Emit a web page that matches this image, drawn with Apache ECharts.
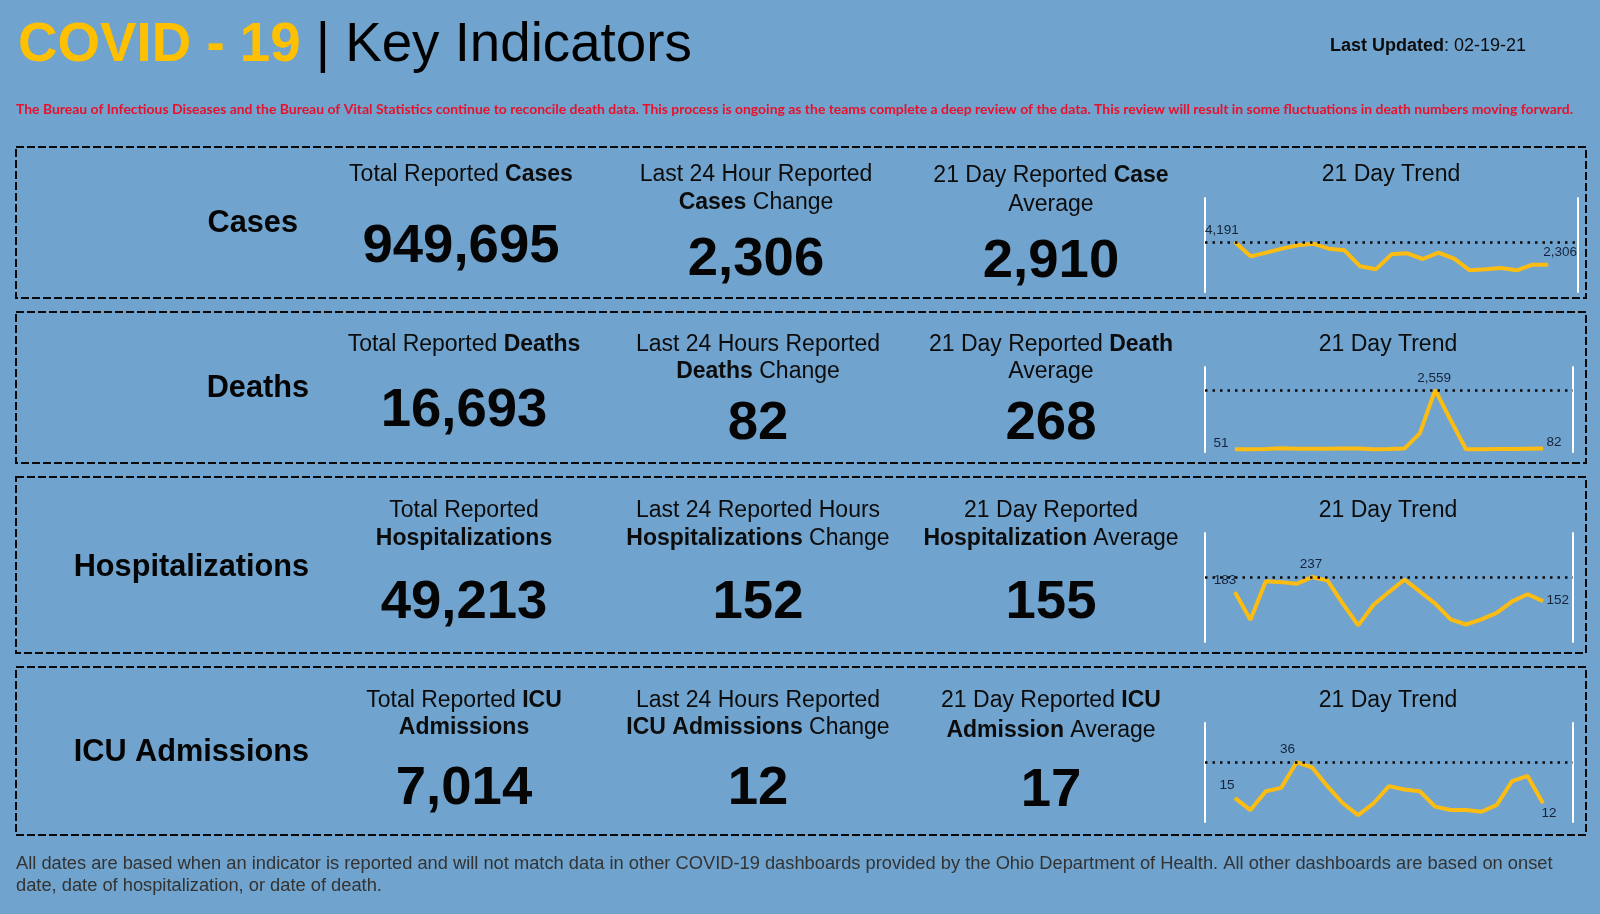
<!DOCTYPE html>
<html>
<head>
<meta charset="utf-8">
<title>COVID - 19 | Key Indicators</title>
<script src="https://cdn.jsdelivr.net/npm/echarts@6/dist/echarts.min.js"></script>
<style>
  html, body { margin: 0; padding: 0; background: #70a3cd; }
  #main { width: 1600px; height: 914px; }
</style>
</head>
<body>
<div id="main"></div>
<script type="text/javascript">
// values
var days = [0, 1, 2, 3, 4, 5, 6, 7, 8, 9, 10, 11, 12, 13, 14, 15, 16, 17, 18, 19, 20];
var casesTrend = [4191, 3000, 3305, 3637, 3914, 4052, 3637, 3498, 2169, 1920, 3166, 3249, 2778, 3305, 2806, 1836, 1920, 2030, 1836, 2306, 2306];
var deathsTrend = [51, 52, 60, 90, 78, 75, 72, 80, 85, 55, 62, 80, 727, 2559, 1291, 51, 55, 60, 62, 78, 82];
var hospTrend = [183, 86, 222, 219, 213, 237, 225, 143, 66, 139, 184, 228, 186, 143, 87, 69, 87, 110, 151, 176, 152];
var icuTrend = [15, 8, 19, 21, 36, 33, 22, 12, 5, 12, 22, 20, 19, 10, 8, 8, 7, 11, 25, 28, 12];

var rowNames = ['Cases', 'Deaths', 'Hospitalizations', 'ICU Admissions'];
var totals = ['949,695', '16,693', '49,213', '7,014'];
var changes = ['2,306', '82', '152', '12'];
var averages = ['2,910', '268', '155', '17'];

// headers: each line is a list of [text, bold]
var totalHeaders = [
  [[['Total Reported ', 0], ['Cases', 1]]],
  [[['Total Reported ', 0], ['Deaths', 1]]],
  [[['Total Reported', 0]], [['Hospitalizations', 1]]],
  [[['Total Reported ', 0], ['ICU', 1]], [['Admissions', 1]]]
];
var changeHeaders = [
  [[['Last 24 Hour Reported', 0]], [['Cases', 1], [' Change', 0]]],
  [[['Last 24 Hours Reported', 0]], [['Deaths', 1], [' Change', 0]]],
  [[['Last 24 Reported Hours', 0]], [['Hospitalizations', 1], [' Change', 0]]],
  [[['Last 24 Hours Reported', 0]], [['ICU Admissions', 1], [' Change', 0]]]
];
var averageHeaders = [
  [[['21 Day Reported ', 0], ['Case', 1]], [['Average', 0]]],
  [[['21 Day Reported ', 0], ['Death', 1]], [['Average', 0]]],
  [[['21 Day Reported', 0]], [['Hospitalization', 1], [' Average', 0]]],
  [[['21 Day Reported ', 0], ['ICU', 1]], [['Admission', 1], [' Average', 0]]]
];

var trendTitle = '21 Day Trend';
var lastUpdated = '02-19-21';
var notice = 'The Bureau of Infectious Diseases and the Bureau of Vital Statistics continue to reconcile death data. This process is ongoing as the teams complete a deep review of the data. This review will result in some fluctuations in death numbers moving forward.';
var footLines = [
  'All dates are based when an indicator is reported and will not match data in other COVID-19 dashboards provided by the Ohio Department of Health. All other dashboards are based on onset',
  'date, date of hospitalization, or date of death.'
];

// layout of each row
var layout = [
  { box: [16, 147, 1570, 151], nameX: 298, nameY: 224, cols: [461, 756, 1051], trendX: 1391, headY: [175, 203], avgHeadY: [176, 205],
    valY: [247, 260, 262], grid: [1205, 198, 373, 94], x: [-1.91, 21.91], y: [36, 7847],
    trend: casesTrend, labels: { 0: ['top', -13, 1], 20: ['top', 12, 0] } },
  { box: [16, 312, 1570, 151], nameX: 309, nameY: 389, cols: [464, 758, 1051], trendX: 1388, headY: [345, 372], avgHeadY: [345, 372],
    valY: [411, 424, 424], grid: [1205, 367, 368, 85], x: [-1.95, 21.95], y: [-64, 3532],
    trend: deathsTrend, labels: { 0: ['left', -1, -6], 13: ['top', -1, 1], 20: ['right', -2, -6] } },
  { box: [16, 477, 1570, 176], nameX: 309, nameY: 568, cols: [464, 758, 1051], trendX: 1388, headY: [511, 539], avgHeadY: [511, 539],
    valY: [603, 603, 603], grid: [1205, 533, 368, 109], x: [-1.95, 21.95], y: [7, 393],
    trend: hospTrend, labels: { 0: ['top', -10, 0], 5: ['top', -1, 0], 20: ['right', -2, -1] } },
  { box: [16, 667, 1570, 168], nameX: 309, nameY: 753, cols: [464, 758, 1051], trendX: 1388, headY: [701, 728], avgHeadY: [701, 731],
    valY: [789, 789, 791], grid: [1205, 723, 368, 99], x: [-1.95, 21.95], y: [1, 59],
    trend: icuTrend, labels: { 0: ['top', -8, 0], 4: ['top', -9, 0], 20: ['bottom', 6, -2] } }
];

var sans = '"Liberation Sans", Arial, sans-serif';
var ink = '#050505';
var gold = '#fcbc12';

function textEl(x, y, text, size, bold, color, align) {
  return {
    type: 'text', x: x, y: y, silent: true,
    style: { text: text, font: (bold ? 'bold ' : '') + size + 'px ' + sans, fill: color || ink, align: align || 'center', verticalAlign: 'middle' }
  };
}

function richLine(x, y, parts, size, align) {
  var text = parts.map(function (p) { return (p[1] ? '{b|' : '{n|') + p[0] + '}'; }).join('');
  return {
    type: 'text', x: x, y: y, silent: true,
    style: {
      text: text, align: align || 'center', verticalAlign: 'middle',
      rich: {
        n: { font: size + 'px ' + sans, fill: '#0c0c0c' },
        b: { font: 'bold ' + size + 'px ' + sans, fill: '#0c0c0c' }
      }
    }
  };
}

var graphics = [
  richLine(18, 46, [['COVID - 19', 1], [' | Key Indicators', 0]], 54.7, 'left'),
  richLine(1330, 46, [['Last Updated', 1], [': ' + lastUpdated, 0]], 18, 'left'),
  {
    type: 'text', x: 16, y: 110, silent: true,
    style: { text: notice, font: 'bold 13.95px Lato, sans-serif', fill: '#e8112d', align: 'left', verticalAlign: 'middle' }
  },
  textEl(16, 864, footLines[0], 18.3, false, '#333333', 'left'),
  textEl(16, 886, footLines[1], 18.3, false, '#333333', 'left')
];
// gold part of the title is styled on its own
graphics[0].style.rich.b.fill = '#ffc000';
graphics[0].style.rich.n.fill = '#000000';

var grids = [], xAxes = [], yAxes = [], series = [];

layout.forEach(function (row, i) {
  var b = row.box;
  graphics.push({
    type: 'rect', silent: true,
    shape: { x: b[0], y: b[1], width: b[2], height: b[3] },
    style: { fill: 'none', stroke: '#0a0a0a', lineWidth: 2, lineDash: [8, 3] }
  });
  graphics.push(textEl(row.nameX, row.nameY, rowNames[i], 30.7, true, ink, 'right'));

  [totalHeaders, changeHeaders, averageHeaders].forEach(function (heads, c) {
    var ys = c === 2 ? row.avgHeadY : row.headY;
    heads[i].forEach(function (parts, l) {
      graphics.push(richLine(row.cols[c], ys[l], parts, 23));
    });
  });
  graphics.push(textEl(row.cols[0], row.valY[0], totals[i], 54.5, true));
  graphics.push(textEl(row.cols[1], row.valY[1], changes[i], 54.5, true));
  graphics.push(textEl(row.cols[2], row.valY[2], averages[i], 54.5, true));
  graphics.push(richLine(row.trendX, row.headY[0], [[trendTitle, 0]], 23));

  var g = row.grid;
  grids.push({ left: g[0], top: g[1], width: g[2], height: g[3], containLabel: false });
  xAxes.push({ type: 'value', gridIndex: i, min: row.x[0], max: row.x[1], show: false });
  var yBase = {
    type: 'value', gridIndex: i, min: row.y[0], max: row.y[1],
    axisLine: { show: true, onZero: false, lineStyle: { color: '#ffffff', width: 2 } },
    axisTick: { show: false }, axisLabel: { show: false }, splitLine: { show: false }
  };
  yAxes.push(Object.assign({ position: 'left' }, yBase));
  yAxes.push(Object.assign({ position: 'right' }, yBase));

  series.push({
    type: 'line', xAxisIndex: i, yAxisIndex: i * 2, silent: true, animation: false,
    symbol: 'circle', symbolSize: 1, showAllSymbol: true,
    lineStyle: { color: gold, width: 4 },
    itemStyle: { color: gold },
    data: row.trend.map(function (v, d) {
      var item = { value: [days[d], v] };
      var lab = row.labels[d];
      if (lab) {
        item.label = {
          show: true, position: lab[0], offset: [lab[1], lab[2]],
          formatter: v.toLocaleString('en-US'),
          fontFamily: sans, fontSize: 13.5, color: '#14233a'
        };
      }
      return item;
    }),
    markLine: {
      silent: true, symbol: 'none', animation: false,
      label: { show: false },
      lineStyle: { color: '#0a0a0a', type: [2.5, 5], width: 2.5 },
      data: [{ yAxis: Math.max.apply(null, row.trend) }]
    }
  });
});

var chart = echarts.init(document.getElementById('main'));
chart.setOption({
  backgroundColor: '#70a3cd',
  animation: false,
  grid: grids,
  xAxis: xAxes,
  yAxis: yAxes,
  series: series,
  graphic: { elements: graphics }
});
</script>
</body>
</html>
